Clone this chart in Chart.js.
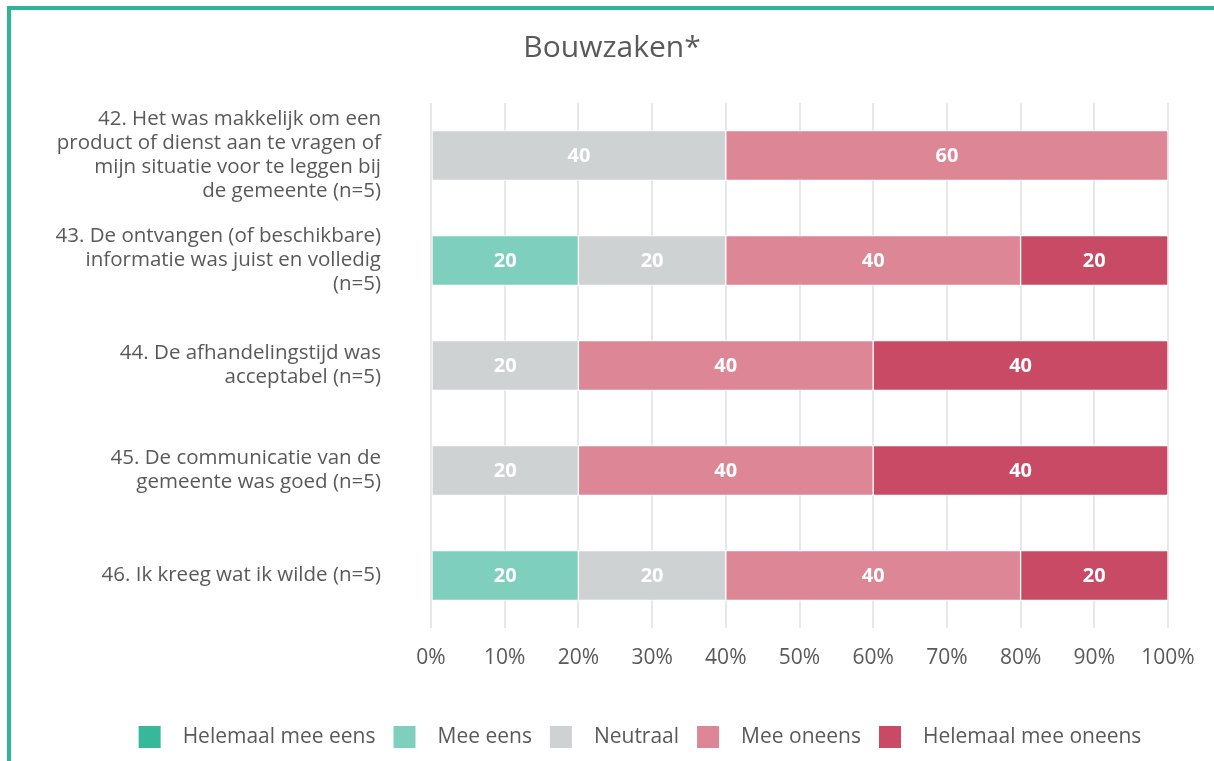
<!DOCTYPE html>
<html>
<head>
<meta charset="utf-8">
<script src="https://cdn.jsdelivr.net/npm/chart.js@4"></script>
<style>
  html, body { margin: 0; padding: 0; background: #fff; }
  #wrap { position: relative; width: 1214px; height: 761px; }
  #frame {
    position: absolute; left: 7px; top: 6px; right: 0; bottom: 0;
    border-top: 4px solid #2db596; border-left: 4px solid #2db596;
    pointer-events: none;
  }
  canvas { position: absolute; left: 0; top: 0; }
</style>
</head>
<body>
<div id="wrap">
  <canvas id="myChart" width="1214" height="761"></canvas>
  <div id="frame"></div>
</div>
<script>
const ctx = document.getElementById('myChart');

const labels = [
    ['42. Het was makkelijk om een', 'product of dienst aan te vragen of', 'mijn situatie voor te leggen bij', 'de gemeente (n=5)'],
    ['43. De ontvangen (of beschikbare)', 'informatie was juist en volledig', '(n=5)'],
    ['44. De afhandelingstijd was', 'acceptabel (n=5)'],
    ['45. De communicatie van de', 'gemeente was goed (n=5)'],
    ['46. Ik kreeg wat ik wilde (n=5)']
];
const seriesNames = ['Helemaal mee eens', 'Mee eens', 'Neutraal', 'Mee oneens', 'Helemaal mee oneens'];
const colors = ['#37b89a', '#7ecfbe', '#cfd2d3', '#dc8696', '#c84a64'];

const helemaalEens = [0, 0, 0, 0, 0];
const meeEens = [0, 20, 0, 0, 20];
const neutraal = [40, 20, 20, 20, 20];
const meeOneens = [60, 40, 40, 40, 40];
const helemaalOneens = [0, 20, 40, 40, 20];
const values = [helemaalEens, meeEens, neutraal, meeOneens, helemaalOneens];

const textColor = '#595959';
const fontFamily = "'Open Sans', sans-serif";

// white numbers in the middle of each segment
const barLabels = {
    id: 'barLabels',
    afterDatasetsDraw(chart) {
        const c = chart.ctx;
        c.save();
        c.fillStyle = '#ffffff';
        c.font = 'bold 20px ' + fontFamily;
        c.textAlign = 'center';
        c.textBaseline = 'middle';
        chart.data.datasets.forEach(function (ds, i) {
            const meta = chart.getDatasetMeta(i);
            meta.data.forEach(function (bar, j) {
                if (!ds.data[j]) return;
                const p = bar.getCenterPoint();
                c.fillText(ds.data[j], p.x, p.y + 1);
            });
        });
        c.restore();
    }
};

// legend row along the bottom
const bottomLegend = {
    id: 'bottomLegend',
    afterDraw(chart) {
        const c = chart.ctx;
        const box = 22, gap = 22, itemGap = 18;
        c.save();
        c.font = '21px ' + fontFamily;
        c.textBaseline = 'middle';
        const widths = seriesNames.map(function (n) { return c.measureText(n).width; });
        let total = 0;
        widths.forEach(function (w) { total += box + gap + w; });
        total += itemGap * (widths.length - 1);
        let x = 640 - total / 2;
        const y = 737;
        seriesNames.forEach(function (n, i) {
            c.fillStyle = colors[i];
            c.fillRect(x, y - box / 2, box, box);
            c.fillStyle = textColor;
            c.fillText(n, x + box + gap, y);
            x += box + gap + widths[i] + itemGap;
        });
        c.restore();
    }
};

new Chart(ctx, {
    type: 'bar',
    data: {
        labels: labels,
        datasets: seriesNames.map(function (name, i) {
            return {
                label: name,
                data: values[i],
                backgroundColor: colors[i],
                borderColor: '#ffffff',
                borderWidth: 1,
                borderSkipped: false,
                barThickness: 50
            };
        })
    },
    options: {
        indexAxis: 'y',
        responsive: false,
        animation: false,
        layout: {
            padding: { top: 0, right: 46, bottom: 73, left: 56 }
        },
        scales: {
            x: {
                stacked: true,
                min: 0,
                max: 100,
                border: { display: false },
                grid: {
                    color: '#e8e8e8',
                    lineWidth: 2,
                    drawTicks: false,
                },
                ticks: {
                    stepSize: 10,
                    padding: 17,
                    color: textColor,
                    font: { family: fontFamily, size: 21 },
                    callback: function (v) { return v + '%'; }
                },
                afterFit: function (scale) { scale.height = 60; }
            },
            y: {
                stacked: true,
                border: { display: false },
                grid: { display: false, drawTicks: false },
                ticks: {
                    padding: 50,
                    color: textColor,
                    font: { family: fontFamily, size: 20.5, lineHeight: '24px' }
                },
                afterFit: function (scale) { scale.width = 375; }
            }
        },
        plugins: {
            legend: { display: false },
            tooltip: { enabled: false },
            title: {
                display: true,
                text: 'Bouwzaken*',
                color: textColor,
                font: { family: fontFamily, size: 30, weight: 'normal' },
                padding: { top: 30, bottom: 37 }
            }
        }
    },
    plugins: [barLabels, bottomLegend]
});
</script>
</body>
</html>
